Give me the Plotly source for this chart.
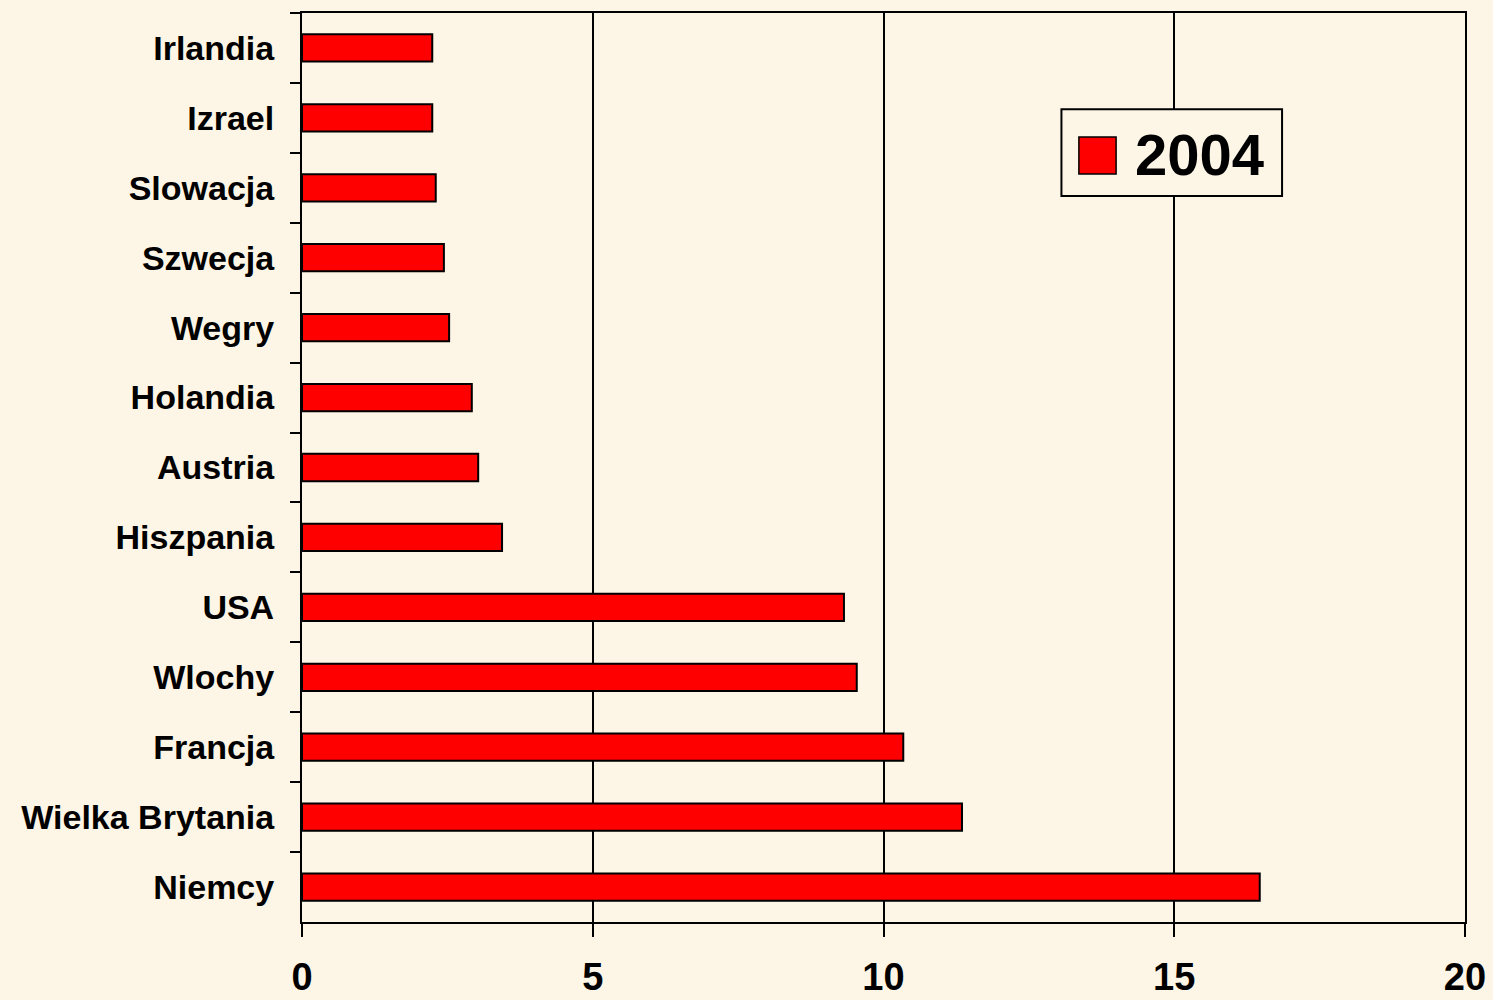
import plotly.graph_objects as go

countries = ["Irlandia", "Izrael", "Slowacja", "Szwecja", "Wegry", "Holandia", "Austria",
             "Hiszpania", "USA", "Wlochy", "Francja", "Wielka Brytania", "Niemcy"]
values_2004 = [2.24, 2.24, 2.30, 2.44, 2.53, 2.92, 3.03, 3.44, 9.32, 9.54, 10.34, 11.35, 16.47]
series_name = "2004"
x_ticks = [0, 5, 10, 15, 20]

BG = "#FDF5E6"
FONT = "Arial, Liberation Sans, sans-serif"

fig = go.Figure()
fig.add_trace(go.Bar(
    x=values_2004, y=countries, orientation="h", name=series_name,
    marker=dict(color="#FF0000", line=dict(color="black", width=2)),
    width=0.39, showlegend=False,
))

# legend drawn manually (large square symbol)
lx0, lx1, ly0, ly1 = 0.653, 0.8427, 0.7987, 0.894
fig.add_shape(type="rect", xref="paper", yref="paper", x0=lx0, x1=lx1, y0=ly0, y1=ly1,
              line=dict(color="black", width=2), fillcolor=BG, layer="above")
fig.add_shape(type="rect", xref="paper", yref="paper", x0=0.668, x1=0.700, y0=0.8229, y1=0.8636,
              line=dict(color="black", width=1.5), fillcolor="#FF0000", layer="above")
fig.add_annotation(xref="paper", yref="paper", x=0.7145, y=0.8438, xanchor="left", yanchor="middle",
                   text=series_name, showarrow=False,
                   font=dict(family=FONT, size=58, color="black", weight="bold"))

fig.update_layout(
    width=1493, height=1000,
    paper_bgcolor=BG, plot_bgcolor=BG,
    margin=dict(l=302, r=28, t=13, b=78, autoexpand=False),
    bargap=0.61,
    font=dict(family=FONT, color="black"),
    xaxis=dict(
        range=[0, 20], tickvals=x_ticks, ticktext=[str(v) for v in x_ticks],
        showgrid=True, gridcolor="black", gridwidth=2,
        showline=True, linecolor="black", linewidth=2, mirror=True,
        ticks="outside", ticklen=13, tickwidth=2, tickcolor="black",
        ticklabelstandoff=7, automargin=False,
        tickfont=dict(family=FONT, size=38, color="black", weight="bold"),
        zeroline=False,
    ),
    yaxis=dict(
        autorange="reversed", tickson="boundaries",
        showgrid=False, automargin=False,
        showline=True, linecolor="black", linewidth=2, mirror=True,
        ticks="outside", ticklen=10, tickwidth=2, tickcolor="black",
        ticklabelstandoff=19,
        tickfont=dict(family=FONT, size=34, color="black", weight="bold"),
    ),
)

fig.write_html("out.html", config={"displayModeBar": False},
               post_script="document.body.style.margin='0';document.body.style.background='" + BG + "';")
